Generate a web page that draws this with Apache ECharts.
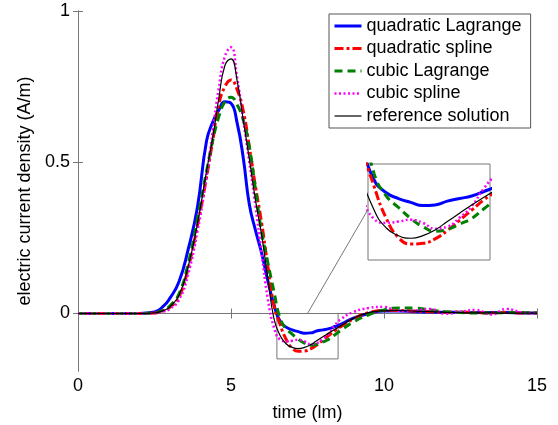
<!DOCTYPE html>
<html>
<head>
<meta charset="utf-8">
<script src="https://cdn.jsdelivr.net/npm/echarts@6.0.0/dist/echarts.min.js"></script>
<style>
html,body{margin:0;padding:0;background:#fff;}
#chart{width:558px;height:425px;}
</style>
</head>
<body>
<div id="chart"></div>
<script>
// time samples (lm)
const times = [0,1,2,2.5,2.8, 3.0,3.3,3.6,3.9, 4.2,4.4,4.6,4.8, 5.0,5.2,5.4,5.6,5.8, 6.0,6.2,6.4,6.6,6.8, 7.0,7.2,7.4,7.6,7.8, 8.0,8.2,8.4,8.6, 9.0,9.5, 10,10.5,11,11.5,12,12.5,13,13.5,14,14.5,15];

const quadLagrange = [0,0,0,0.005,0.025, 0.05,0.105,0.212,0.35, 0.57,0.632,0.672,0.7, 0.695,0.63,0.515,0.36,0.275, 0.2,0.11,0.03,-0.025,-0.045, -0.054,-0.06,-0.065,-0.064,-0.058, -0.054,-0.05,-0.043,-0.035, -0.015,0.0, 0.008,0.008,0.006,0.005,0.004,0.004,0.003,0.003,0.003,0.002,0.002];

const quadSpline = [0,0,0,0.002,0.01, 0.02,0.055,0.15,0.29, 0.45,0.57,0.69,0.75, 0.772,0.74,0.67,0.55,0.42, 0.3,0.16,0.03,-0.035,-0.085, -0.115,-0.125,-0.124,-0.117,-0.104, -0.088,-0.072,-0.056,-0.043, -0.018,0.003, 0.01,0.01,0.008,0.006,0.004,0.005,0.003,0.002,0.004,0.002,0.002];

const cubicLagrange = [0,0,0,0.003,0.012, 0.025,0.065,0.165,0.31, 0.47,0.57,0.65,0.7, 0.715,0.69,0.64,0.55,0.41, 0.27,0.17,0.075,-0.015,-0.05, -0.068,-0.085,-0.098,-0.105,-0.102, -0.094,-0.085,-0.07,-0.055, -0.028,-0.004, 0.012,0.018,0.018,0.012,0.006,0.003,0.002,0.002,0.003,0.003,0.002];

const cubicSpline = [0,0,0,0.001,0.007, 0.015,0.045,0.13,0.27, 0.45,0.6,0.745,0.85, 0.88,0.78,0.64,0.5,0.355, 0.2,0.05,-0.045,-0.086,-0.092, -0.09,-0.087,-0.092,-0.101,-0.098, -0.084,-0.066,-0.038,-0.018, 0.005,0.018, 0.022,0.008,0.01,0.015,-0.001,0.006,0.012,-0.003,0.015,0.004,0.0];

const reference = [0,0,0,0.002,0.01, 0.022,0.06,0.155,0.295, 0.47,0.58,0.71,0.82, 0.842,0.77,0.64,0.51,0.375, 0.26,0.12,-0.015,-0.072,-0.1, -0.112,-0.116,-0.112,-0.103,-0.09, -0.077,-0.064,-0.052,-0.04, -0.016,0.003, 0.009,0.01,0.008,0.006,0.004,0.003,0.002,0.002,0.001,0.001,0.001];

const seriesNames = ['quadratic Lagrange','quadratic spline','cubic Lagrange','cubic spline','reference solution'];
const yTicks = [0,0.5,1];
const zoomX = [6.5, 8.5];
const zoomY = [-0.15, 0];
const connectorMain = [7.5, 0];
const connectorInset = [6.5, -0.071];

const seriesValues = [quadLagrange, quadSpline, cubicLagrange, cubicSpline, reference];
const styles = [
  {color:'#0000ff', width:3, type:'solid'},
  {color:'#ff0000', width:3, type:[9,3,3,3]},
  {color:'#008000', width:3, type:[8,5]},
  {color:'#ff00ff', width:2.5, type:[2,2.5]},
  {color:'#000000', width:1.2, type:'solid'}
];

const FONT = 'Liberation Sans, Arial, Helvetica, sans-serif';
const AXC = '#777';

function pairs(vals){ return times.map((t,i)=>[t, vals[i]]); }

const series = [];
[0,1].forEach(g=>{
  seriesValues.forEach((vals,i)=>{
    const s = {
      name: seriesNames[i],
      type:'line',
      xAxisIndex: g===0?0:2,
      yAxisIndex: g===0?0:2,
      data: pairs(vals),
      symbol:'none',
      smooth:0.5,
      clip:true,
      color: styles[i].color,
      lineStyle:{color:styles[i].color, width:styles[i].width, type:styles[i].type},
      z: (g===0?2:20)+i,
      silent:true
    };
    if (g===0 && i===0) {
      s.markArea = {
        silent:true,
        itemStyle:{color:'rgba(0,0,0,0)', borderColor:AXC, borderWidth:1},
        data:[[{coord:[zoomX[0], zoomY[1]]},{coord:[zoomX[1], zoomY[0]]}]]
      };
    }
    series.push(s);
  });
});

const chart = echarts.init(document.getElementById('chart'), null, {renderer:'canvas'});
const tickStyle = {inside:true, length:5, lineStyle:{color:AXC}};
chart.setOption({
  animation:false,
  textStyle:{fontFamily:FONT},
  grid:[
    {left:78, right:21, top:11, bottom:54, outerBoundsMode:'none', containLabel:false},
    {left:368, top:164, width:122, height:96, show:true, borderColor:AXC, borderWidth:1, backgroundColor:'#fff', outerBoundsMode:'none'}
  ],
  legend:{
    data:seriesNames.map((n,i)=>({name:n, lineStyle:{width:styles[i].width, type:styles[i].type, color:styles[i].color}})),
    orient:'vertical',
    left:329, top:14,
    padding:[3,9,3,4],
    itemWidth:27, itemHeight:14, itemGap:4.5,
    borderColor:'#555', borderWidth:1, backgroundColor:'#fff',
    itemStyle:{opacity:0},
    textStyle:{fontSize:18, color:'#000', fontFamily:FONT},
    selectedMode:false
  },
  xAxis:[
    {gridIndex:0, type:'value', min:0, max:15, interval:5, position:'bottom',
     axisLine:{lineStyle:{color:AXC}}, axisTick:tickStyle,
     axisLabel:{color:'#000', fontSize:18, margin:6, fontFamily:FONT},
     splitLine:{show:false},
     name:'time (lm)', nameLocation:'middle', nameGap:33,
     nameTextStyle:{fontSize:18, color:'#000', fontFamily:FONT}},
    {gridIndex:0, type:'value', min:0, max:15, interval:5, position:'top',
     axisLine:{lineStyle:{color:AXC}}, axisTick:tickStyle,
     axisLabel:{show:false}, splitLine:{show:false}},
    {gridIndex:1, type:'value', min:zoomX[0], max:zoomX[1], show:false, splitLine:{show:false}}
  ],
  yAxis:[
    {gridIndex:0, type:'value', min:-0.19, max:1, position:'left',
     axisLine:{show:true, lineStyle:{color:AXC}},
     axisTick:{show:true, inside:true, length:5, lineStyle:{color:AXC}, customValues:yTicks},
     axisLabel:{color:'#000', fontSize:18, margin:8, fontFamily:FONT, customValues:yTicks},
     splitLine:{show:false},
     name:'electric current density (A/m)', nameLocation:'middle', nameGap:43,
     nameTextStyle:{fontSize:18, color:'#000', fontFamily:FONT}},
    {gridIndex:0, type:'value', min:-0.19, max:1, position:'right',
     axisLine:{show:true, lineStyle:{color:AXC}},
     axisTick:{show:true, inside:true, length:5, lineStyle:{color:AXC}, customValues:yTicks},
     axisLabel:{show:false}, splitLine:{show:false}},
    {gridIndex:1, type:'value', min:zoomY[0], max:zoomY[1], show:false, splitLine:{show:false}}
  ],
  series: series
});

const p1 = chart.convertToPixel({xAxisIndex:0, yAxisIndex:0}, connectorMain);
const p2 = chart.convertToPixel({xAxisIndex:2, yAxisIndex:2}, connectorInset);
chart.setOption({
  graphic:[{type:'line', silent:true, z:30,
    shape:{x1:p1[0], y1:p1[1], x2:p2[0], y2:p2[1]},
    style:{stroke:AXC, lineWidth:1}}]
});
</script>
</body>
</html>
